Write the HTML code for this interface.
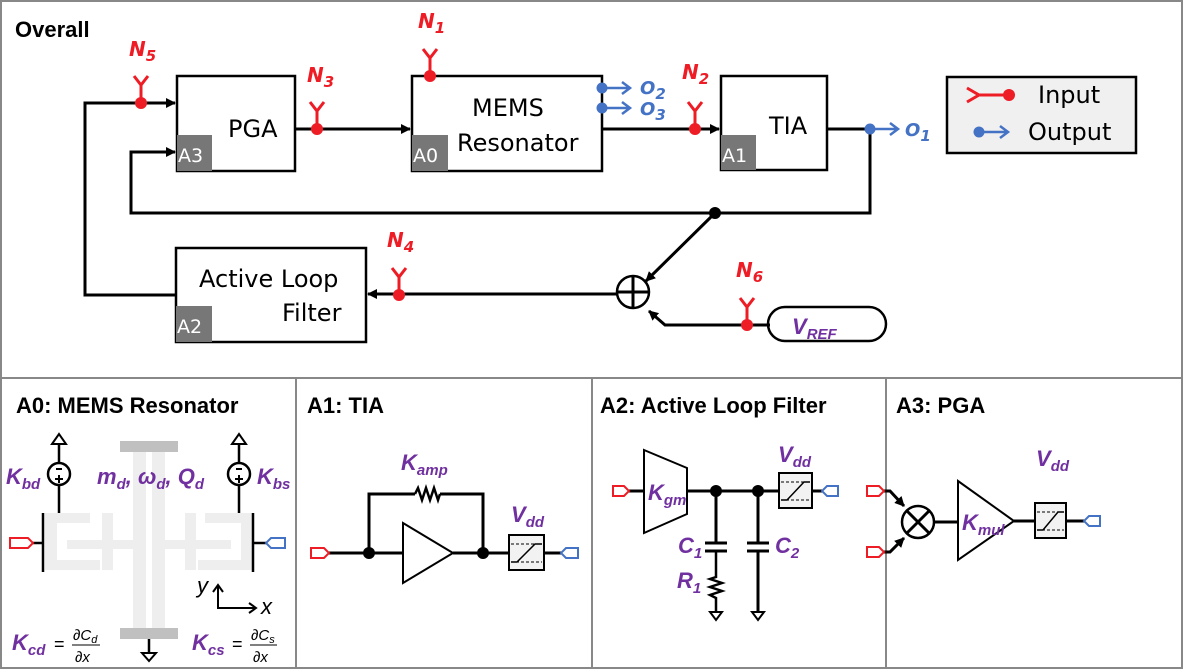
<!DOCTYPE html>
<html><head><meta charset="utf-8"><style>
html,body{margin:0;padding:0;background:#fff}
svg{display:block}
text{font-family:"Liberation Sans",sans-serif}
.t{font-size:24px;fill:#000;font-family:"DejaVu Sans",sans-serif}
.h{font-size:22px;font-weight:bold;fill:#000}
.tag{font-size:19px;fill:#fff;font-family:"DejaVu Sans",sans-serif}
.n{font-size:20px;font-weight:bold;font-style:italic;fill:#ee1c25;font-family:"DejaVu Sans",sans-serif}
.o{font-size:18px;font-weight:bold;font-style:italic;fill:#4472c4;font-family:"DejaVu Sans",sans-serif}
.p{font-size:22px;font-weight:bold;font-style:italic;fill:#7030a0}
.ps{font-size:15px}
</style></head><body>
<svg width="1183" height="669" viewBox="0 0 1183 669" xmlns="http://www.w3.org/2000/svg">
<defs>
<marker id="ar" markerWidth="10" markerHeight="10" refX="9" refY="5" orient="auto" markerUnits="userSpaceOnUse"><path d="M0,0 L10,5 L0,10 z" fill="#000"/></marker>
</defs>
<rect x="1" y="1" width="1181" height="667" fill="none" stroke="#888" stroke-width="2"/>
<line x1="0" y1="378" x2="1183" y2="378" stroke="#888" stroke-width="2"/>
<line x1="296" y1="378" x2="296" y2="669" stroke="#888" stroke-width="2"/>
<line x1="592" y1="378" x2="592" y2="669" stroke="#888" stroke-width="2"/>
<line x1="886" y1="378" x2="886" y2="669" stroke="#888" stroke-width="2"/>

<text x="15" y="37" class="h">Overall</text>

<g stroke="#000" stroke-width="3" fill="none">
<rect x="177" y="76" width="118" height="95" fill="#fff" stroke-width="2.5"/>
<rect x="412" y="76" width="190" height="95" fill="#fff" stroke-width="2.5"/>
<rect x="721" y="76" width="106" height="94" fill="#fff" stroke-width="2.5"/>
<rect x="176" y="248" width="190" height="94" fill="#fff" stroke-width="2.5"/>
<rect x="947" y="77" width="189" height="76" fill="#f0f0f0" stroke-width="2.5"/>
<rect x="768" y="307" width="118" height="34" rx="17" fill="#fff" stroke-width="2.5"/>
<polyline points="176,295 85,295 85,103 175,103" marker-end="url(#ar)"/>
<polyline points="870,129 870,213 131,213 131,152 175,152" marker-end="url(#ar)"/>
<line x1="295" y1="129" x2="410" y2="129" marker-end="url(#ar)"/>
<line x1="602" y1="129" x2="719" y2="129" marker-end="url(#ar)"/>
<line x1="827" y1="129" x2="870" y2="129"/>
<line x1="715" y1="213" x2="646" y2="281" marker-end="url(#ar)"/>
<line x1="617" y1="294" x2="368" y2="294" marker-end="url(#ar)"/>
<polyline points="770,325 665,325 649,311" marker-end="url(#ar)"/>
<circle cx="633" cy="292" r="16" fill="#fff" stroke-width="2.5"/>
<line x1="633" y1="276" x2="633" y2="308"/>
<line x1="617" y1="292" x2="649" y2="292"/>
</g>
<circle cx="715" cy="213" r="6" fill="#000"/>
<rect x="177" y="135" width="35" height="36" fill="#777"/><text x="178" y="162" class="tag">A3</text>
<rect x="412" y="135" width="36" height="36" fill="#777"/><text x="413" y="162" class="tag">A0</text>
<rect x="721" y="135" width="35" height="35" fill="#777"/><text x="722" y="162" class="tag">A1</text>
<rect x="176" y="306" width="36" height="36" fill="#777"/><text x="177" y="333" class="tag">A2</text>
<text x="228" y="137" class="t">PGA</text>
<text x="472" y="116" class="t">MEMS</text>
<text x="457" y="151" class="t">Resonator</text>
<text x="769" y="134" class="t">TIA</text>
<text x="199" y="287" class="t">Active Loop</text>
<text x="282" y="321" class="t">Filter</text>
<text x="792" y="334" class="p">V<tspan class="ps" dy="5">REF</tspan></text>

<g stroke="#ee1c25" stroke-width="3" fill="none">
<path d="M141,103 V85 M134,76 L141,85 L148,76"/>
<path d="M317,129 V111 M310,102 L317,111 L324,102"/>
<path d="M430,76 V58 M423,49 L430,58 L437,49"/>
<path d="M695,129 V111 M688,102 L695,111 L702,102"/>
<path d="M399,295 V277 M392,268 L399,277 L406,268"/>
<path d="M747,325 V307 M740,298 L747,307 L754,298"/>
<path d="M967,88 L979,95 L967,102 M979,95 H1008"/>
</g>
<g fill="#ee1c25">
<circle cx="141" cy="103" r="6"/><circle cx="317" cy="129" r="6"/><circle cx="430" cy="76" r="6"/>
<circle cx="695" cy="129" r="6"/><circle cx="399" cy="295" r="6"/><circle cx="747" cy="325" r="6"/>
<circle cx="1009" cy="95" r="6"/>
</g>
<text x="129" y="56" class="n">N<tspan class="ps" dy="5">5</tspan></text>
<text x="307" y="82" class="n">N<tspan class="ps" dy="5">3</tspan></text>
<text x="418" y="28" class="n">N<tspan class="ps" dy="5">1</tspan></text>
<text x="682" y="79" class="n">N<tspan class="ps" dy="5">2</tspan></text>
<text x="387" y="247" class="n">N<tspan class="ps" dy="5">4</tspan></text>
<text x="736" y="277" class="n">N<tspan class="ps" dy="5">6</tspan></text>

<g stroke="#4472c4" stroke-width="2.5" fill="none">
<path d="M602,88 H630 M622,82 L630,88 L622,94"/>
<path d="M602,108 H630 M622,102 L630,108 L622,114"/>
<path d="M870,129 H898 M890,123 L898,129 L890,135"/>
<path d="M979,132 H1008 M1000,126 L1008,132 L1000,138"/>
</g>
<g fill="#4472c4">
<circle cx="602" cy="88" r="5.5"/><circle cx="602" cy="108" r="5.5"/><circle cx="870" cy="129" r="5.5"/><circle cx="979" cy="132" r="5.5"/>
</g>
<text x="640" y="94" class="o">O<tspan class="ps" dy="5">2</tspan></text>
<text x="640" y="115" class="o">O<tspan class="ps" dy="5">3</tspan></text>
<text x="905" y="136" class="o">O<tspan class="ps" dy="5">1</tspan></text>
<text x="1038" y="103" class="t" font-size="22">Input</text>
<text x="1028" y="140" class="t" font-size="22">Output</text>

<!-- A0 -->
<text x="16" y="413" class="h">A0: MEMS Resonator</text>
<g fill="#eeeeee">
<rect x="133" y="452" width="13" height="176"/><rect x="152" y="452" width="13" height="176"/>
<rect x="45" y="513" width="45" height="10"/><rect x="45" y="513" width="12" height="57"/><rect x="45" y="560" width="55" height="10"/>
<rect x="67" y="540" width="66" height="9"/><rect x="102" y="513" width="11" height="57"/>
<rect x="165" y="540" width="66" height="9"/><rect x="185" y="513" width="11" height="57"/>
<rect x="205" y="513" width="48" height="10"/><rect x="241" y="513" width="12" height="57"/><rect x="198" y="560" width="55" height="10"/>
</g>
<rect x="120" y="441" width="58" height="11" fill="#c0c0c0"/>
<rect x="120" y="628" width="58" height="11" fill="#c0c0c0"/>
<g stroke="#000" stroke-width="2.5" fill="none">
<line x1="43" y1="513" x2="43" y2="572"/><line x1="253" y1="513" x2="253" y2="572"/>
<line x1="30" y1="543" x2="43" y2="543"/><line x1="253" y1="543" x2="266" y2="543"/>
<line x1="59" y1="444" x2="59" y2="463"/><line x1="59" y1="485" x2="59" y2="513"/>
<line x1="239" y1="444" x2="239" y2="463"/><line x1="239" y1="485" x2="239" y2="513"/>
<circle cx="59" cy="474" r="11" fill="#fff"/><circle cx="239" cy="474" r="11" fill="#fff"/>
<path d="M52,444 L59,434 L66,444 Z" fill="#fff" stroke-width="2"/>
<path d="M232,444 L239,434 L246,444 Z" fill="#fff" stroke-width="2"/>
<line x1="149" y1="639" x2="149" y2="653"/>
<path d="M142,653 L156,653 L149,661 Z" stroke-width="2"/>
<path d="M218,585 V608 H256" stroke-width="2"/>
<path d="M213,592 L218,585 L223,592 M249,603 L256,608 L249,613" stroke-width="2"/>
</g>
<g stroke="#000" stroke-width="2"><line x1="56" y1="469" x2="62" y2="469"/><line x1="55" y1="479" x2="63" y2="479"/><line x1="59" y1="475" x2="59" y2="483"/>
<line x1="236" y1="469" x2="242" y2="469"/><line x1="235" y1="479" x2="243" y2="479"/><line x1="239" y1="475" x2="239" y2="483"/></g>
<path d="M10,538 H28 L33,543 L28,548 H10 Z" fill="#fff" stroke="#ee1c25" stroke-width="2"/>
<path d="M285,538 H271 L266,543 L271,548 H285 Z" fill="#fff" stroke="#4472c4" stroke-width="2"/>
<text x="6" y="484" class="p">K<tspan class="ps" dy="5">bd</tspan></text>
<text x="257" y="484" class="p">K<tspan class="ps" dy="5">bs</tspan></text>
<text x="97" y="484" class="p">m<tspan class="ps" dy="5">d</tspan><tspan dy="-5">, ω</tspan><tspan class="ps" dy="5">d</tspan><tspan dy="-5">, Q</tspan><tspan class="ps" dy="5">d</tspan></text>
<text x="197" y="593" font-size="22" font-style="italic" fill="#000">y</text>
<text x="261" y="614" font-size="22" font-style="italic" fill="#000">x</text>
<text x="12" y="650" class="p">K<tspan class="ps" dy="5">cd</tspan></text>
<text x="54" y="650" font-size="18" fill="#000">=</text>
<text x="73" y="640" font-size="15" font-style="italic" fill="#000" font-family="Liberation Serif">∂C<tspan font-size="11" dy="3">d</tspan></text>
<line x1="72" y1="645" x2="100" y2="645" stroke="#000" stroke-width="1"/>
<text x="75" y="662" font-size="15" font-style="italic" fill="#000" font-family="Liberation Serif">∂x</text>
<text x="192" y="650" class="p">K<tspan class="ps" dy="5">cs</tspan></text>
<text x="232" y="650" font-size="18" fill="#000">=</text>
<text x="251" y="640" font-size="15" font-style="italic" fill="#000" font-family="Liberation Serif">∂C<tspan font-size="11" dy="3">s</tspan></text>
<line x1="250" y1="645" x2="277" y2="645" stroke="#000" stroke-width="1"/>
<text x="253" y="662" font-size="15" font-style="italic" fill="#000" font-family="Liberation Serif">∂x</text>

<!-- A1 -->
<text x="307" y="413" class="h">A1: TIA</text>
<g stroke="#000" stroke-width="3" fill="none">
<line x1="329" y1="553" x2="403" y2="553"/>
<polyline points="369,553 369,494 415,494"/>
<polyline points="440,494 483,494 483,553"/>
<polyline points="415,494 418,488 422,500 426,488 430,500 434,488 438,500 440,494" stroke-width="2.5"/>
<path d="M403,523 L453,553 L403,583 Z" fill="#fff" stroke-width="2"/>
<line x1="453" y1="553" x2="509" y2="553"/>
<line x1="544" y1="553" x2="562" y2="553"/>
</g>
<circle cx="369" cy="553" r="6"/><circle cx="483" cy="553" r="6"/>
<rect x="509" y="535" width="35" height="35" fill="#f2f2f2" stroke="#000" stroke-width="2"/>
<line x1="511" y1="544" x2="542" y2="544" stroke="#000" stroke-width="1" stroke-dasharray="3,2"/>
<line x1="511" y1="562" x2="542" y2="562" stroke="#000" stroke-width="1" stroke-dasharray="3,2"/>
<polyline points="511,562 517,562 535,544 542,544" fill="none" stroke="#000" stroke-width="1.5"/>
<path d="M311,548 H324 L329,553 L324,558 H311 Z" fill="#fff" stroke="#ee1c25" stroke-width="2"/>
<path d="M578,548 H566 L561,553 L566,558 H578 Z" fill="#fff" stroke="#4472c4" stroke-width="2"/>
<text x="401" y="470" class="p">K<tspan class="ps" dy="5">amp</tspan></text>
<text x="511" y="522" class="p">V<tspan class="ps" dy="5">dd</tspan></text>

<!-- A2 -->
<text x="600" y="413" class="h">A2: Active Loop Filter</text>
<g stroke="#000" stroke-width="3" fill="none">
<line x1="628" y1="491" x2="644" y2="491"/>
<path d="M644,450 L687,468 L687,514 L644,533 Z" fill="#fff" stroke-width="2"/>
<line x1="687" y1="491" x2="779" y2="491"/>
<line x1="812" y1="491" x2="824" y2="491"/>
<line x1="716" y1="491" x2="716" y2="543"/><line x1="705" y1="543" x2="727" y2="543"/><line x1="705" y1="551" x2="727" y2="551"/>
<polyline points="716,551 716,577 710,579 722,583 710,587 722,591 710,595 716,598 716,612" stroke-width="2.5"/>
<line x1="758" y1="491" x2="758" y2="543"/><line x1="747" y1="543" x2="769" y2="543"/><line x1="747" y1="551" x2="769" y2="551"/><line x1="758" y1="551" x2="758" y2="612"/>
<path d="M710,612 H722 L716,620 Z" stroke-width="2"/>
<path d="M752,612 H764 L758,620 Z" stroke-width="2"/>
</g>
<circle cx="716" cy="491" r="6"/><circle cx="758" cy="491" r="6"/>
<rect x="779" y="473" width="33" height="35" fill="#f2f2f2" stroke="#000" stroke-width="2"/>
<line x1="781" y1="482" x2="810" y2="482" stroke="#000" stroke-width="1" stroke-dasharray="3,2"/>
<line x1="781" y1="500" x2="810" y2="500" stroke="#000" stroke-width="1" stroke-dasharray="3,2"/>
<polyline points="781,500 787,500 804,482 810,482" fill="none" stroke="#000" stroke-width="1.5"/>
<path d="M613,486 H624 L629,491 L624,496 H613 Z" fill="#fff" stroke="#ee1c25" stroke-width="2"/>
<path d="M838,486 H827 L822,491 L827,496 H838 Z" fill="#fff" stroke="#4472c4" stroke-width="2"/>
<text x="648" y="500" class="p">K<tspan class="ps" dy="5">gm</tspan></text>
<text x="778" y="462" class="p">V<tspan class="ps" dy="5">dd</tspan></text>
<text x="678" y="553" class="p">C<tspan class="ps" dy="5">1</tspan></text>
<text x="677" y="588" class="p">R<tspan class="ps" dy="5">1</tspan></text>
<text x="775" y="553" class="p">C<tspan class="ps" dy="5">2</tspan></text>

<!-- A3 -->
<text x="896" y="413" class="h">A3: PGA</text>
<g stroke="#000" stroke-width="3" fill="none">
<polyline points="883,491 890,491 904,506" marker-end="url(#ar)"/>
<polyline points="883,552 890,552 904,538" marker-end="url(#ar)"/>
<circle cx="918" cy="522" r="16" fill="#fff" stroke-width="2.5"/>
<line x1="907" y1="511" x2="929" y2="533"/><line x1="929" y1="511" x2="907" y2="533"/>
<line x1="934" y1="522" x2="958" y2="522"/>
<path d="M958,481 L1014,521 L958,560 Z" fill="#fff" stroke-width="2"/>
<line x1="1014" y1="521" x2="1035" y2="521"/>
<line x1="1066" y1="521" x2="1086" y2="521"/>
</g>
<rect x="1035" y="503" width="31" height="35" fill="#f2f2f2" stroke="#000" stroke-width="2"/>
<line x1="1037" y1="512" x2="1064" y2="512" stroke="#000" stroke-width="1" stroke-dasharray="3,2"/>
<line x1="1037" y1="530" x2="1064" y2="530" stroke="#000" stroke-width="1" stroke-dasharray="3,2"/>
<polyline points="1037,530 1043,530 1058,512 1064,512" fill="none" stroke="#000" stroke-width="1.5"/>
<path d="M867,486 H879 L884,491 L879,496 H867 Z" fill="#fff" stroke="#ee1c25" stroke-width="2"/>
<path d="M867,547 H879 L884,552 L879,557 H867 Z" fill="#fff" stroke="#ee1c25" stroke-width="2"/>
<path d="M1100,516 H1089 L1084,521 L1089,526 H1100 Z" fill="#fff" stroke="#4472c4" stroke-width="2"/>
<text x="962" y="530" class="p">K<tspan class="ps" dy="5">mul</tspan></text>
<text x="1036" y="466" class="p">V<tspan class="ps" dy="5">dd</tspan></text>
</svg>
</body></html>
